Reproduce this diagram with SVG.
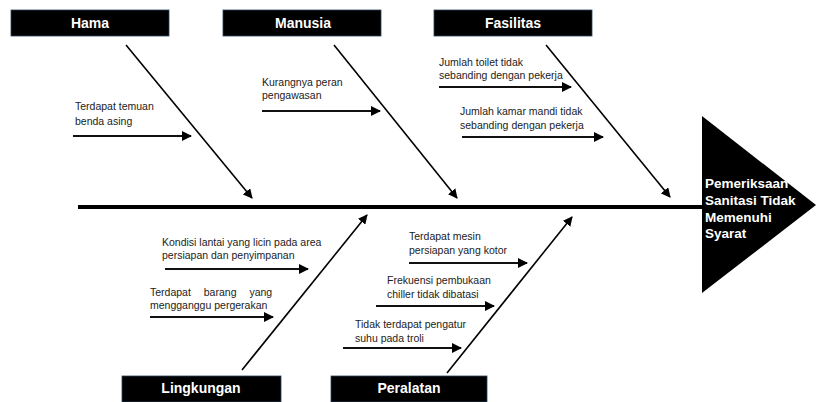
<svg xmlns="http://www.w3.org/2000/svg" width="816" height="402" viewBox="0 0 816 402">
<style>
.box{fill:#000;stroke:#2a4560;stroke-width:0.8}
.title{font-family:"Liberation Sans",Arial,sans-serif;font-weight:bold;font-size:14px;fill:#fff;text-anchor:middle}
.lbl{font-family:"Liberation Sans",Arial,sans-serif;font-size:10.5px;fill:#222}
.bone{stroke:#000;stroke-width:1.6;fill:none}
.arr{stroke:#111;stroke-width:2;fill:none}
.head{font-family:"Liberation Sans",Arial,sans-serif;font-weight:bold;font-size:13.5px;fill:#fff}
</style>
<defs>
<marker id="ah" viewBox="0 0 10 10" refX="9" refY="5" markerWidth="5" markerHeight="5" orient="auto" markerUnits="strokeWidth">
<path d="M0,0 L10,5 L0,10 z" fill="#000"/>
</marker>
<marker id="ah2" viewBox="0 0 10 10" refX="9" refY="5" markerWidth="6" markerHeight="6" orient="auto" markerUnits="strokeWidth">
<path d="M0,0 L10,5 L0,10 z" fill="#000"/>
</marker>
</defs>
<rect width="816" height="402" fill="#fff"/>

<g id="spine">
<line x1="78" y1="207" x2="704" y2="207" stroke="#000" stroke-width="4"/>
</g>

<g id="effect">
<polygon points="702,116 816,205 702,293" fill="#000"/>
<text class="head" x="705" y="188">Pemeriksaan</text>
<text class="head" x="705" y="205">Sanitasi Tidak</text>
<text class="head" x="705" y="222">Memenuhi</text>
<text class="head" x="705" y="238">Syarat</text>
</g>

<g id="hama">
<rect class="box" x="11" y="10" width="158" height="26"/>
<text class="title" x="90" y="28">Hama</text>
</g>
<g id="manusia">
<rect class="box" x="223" y="10" width="158" height="26"/>
<text class="title" x="303" y="28">Manusia</text>
</g>
<g id="fasilitas">
<rect class="box" x="434" y="10" width="158" height="26"/>
<text class="title" x="513" y="28">Fasilitas</text>
</g>
<g id="lingkungan">
<rect class="box" x="122" y="376" width="159" height="26"/>
<text class="title" x="201" y="393">Lingkungan</text>
</g>
<g id="peralatan">
<rect class="box" x="331" y="376" width="156" height="26"/>
<text class="title" x="409" y="393">Peralatan</text>
</g>

<g id="labels">
<text class="lbl" x="75" y="110">Terdapat temuan</text>
<text class="lbl" x="75" y="125">benda asing</text>
<text class="lbl" x="262" y="86">Kurangnya peran</text>
<text class="lbl" x="262" y="99">pengawasan</text>
<text class="lbl" x="439" y="66">Jumlah toilet tidak</text>
<text class="lbl" x="439" y="79">sebanding dengan pekerja</text>
<text class="lbl" x="460" y="115">Jumlah kamar mandi tidak</text>
<text class="lbl" x="460" y="129">sebanding dengan pekerja</text>
<text class="lbl" x="162" y="246">Kondisi lantai yang licin pada area</text>
<text class="lbl" x="162" y="259">persiapan dan penyimpanan</text>
<text class="lbl" x="150" y="296" word-spacing="10">Terdapat barang yang</text>
<text class="lbl" x="150" y="309">mengganggu pergerakan</text>
<text class="lbl" x="409" y="240">Terdapat mesin</text>
<text class="lbl" x="409" y="254">persiapan yang kotor</text>
<text class="lbl" x="387" y="284">Frekuensi pembukaan</text>
<text class="lbl" x="387" y="298">chiller tidak dibatasi</text>
<text class="lbl" x="355" y="328">Tidak terdapat pengatur</text>
<text class="lbl" x="355" y="342">suhu pada troli</text>
</g>

<g id="connectors">
<line class="bone" x1="126" y1="45" x2="252" y2="198" marker-end="url(#ah2)"/>
<line class="bone" x1="334" y1="45" x2="457" y2="198" marker-end="url(#ah2)"/>
<line class="bone" x1="546" y1="45" x2="670" y2="197" marker-end="url(#ah2)"/>
<line class="bone" x1="242" y1="370" x2="367" y2="215" marker-end="url(#ah2)"/>
<line class="bone" x1="447" y1="373" x2="572" y2="217" marker-end="url(#ah2)"/>

<line class="arr" x1="73" y1="136" x2="191" y2="136" marker-end="url(#ah)"/>
<line class="arr" x1="262" y1="111" x2="380" y2="111" marker-end="url(#ah)"/>
<line class="arr" x1="439" y1="87" x2="571" y2="87" marker-end="url(#ah)"/>
<line class="arr" x1="462" y1="137" x2="603" y2="137" marker-end="url(#ah)"/>
<line class="arr" x1="165" y1="269" x2="308" y2="269" marker-end="url(#ah)"/>
<line class="arr" x1="150" y1="317" x2="273" y2="317" marker-end="url(#ah)"/>
<line class="arr" x1="409" y1="263" x2="527" y2="263" marker-end="url(#ah)"/>
<line class="arr" x1="376" y1="306" x2="494" y2="306" marker-end="url(#ah)"/>
<line class="arr" x1="343" y1="348" x2="461" y2="348" marker-end="url(#ah)"/>
</g>
</svg>
